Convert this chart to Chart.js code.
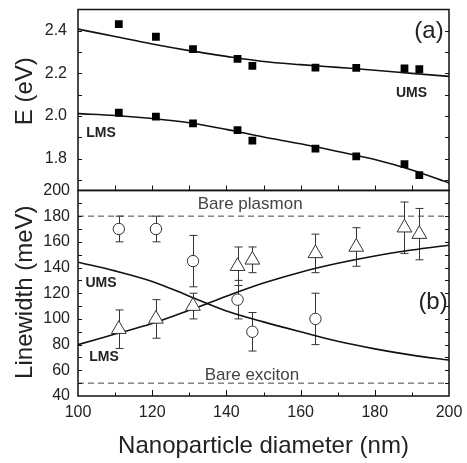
<!DOCTYPE html>
<html><head><meta charset="utf-8">
<script src="https://cdn.jsdelivr.net/npm/chart.js@4.4.0/dist/chart.umd.min.js"></script>
<style>html,body{margin:0;padding:0;background:#fff}</style>
</head><body>
<canvas id="c" width="467" height="463" style="width:467px;height:463px;display:block"></canvas>
<script>
// ---- data ----
const diameters = [111, 121, 131, 143, 147, 164, 175, 188, 192];
const energyUMS = [2.431, 2.372, 2.314, 2.268, 2.235, 2.227, 2.226, 2.223, 2.220];
const energyLMS = [2.015, 1.997, 1.965, 1.933, 1.884, 1.847, 1.810, 1.774, 1.722];
const fitDiameters = [100, 110, 120, 130, 140, 150, 160, 170, 180, 190, 200];
const energyUMSFit = [2.408, 2.373, 2.338, 2.307, 2.280, 2.256, 2.241, 2.228, 2.215, 2.200, 2.186];
const energyLMSFit = [2.011, 2.002, 1.988, 1.968, 1.937, 1.901, 1.869, 1.833, 1.795, 1.746, 1.685];
const widthUMSDiameters = [111, 121, 131, 143, 147, 164];
const widthUMS = [170, 170, 145, 115, 90, 100];
const widthUMSErr = [10, 10, 20, 15, 15, 20];
const widthLMSDiameters = [111, 121, 131, 143, 147, 164, 175, 188, 192];
const widthLMS = [92, 100, 110, 141, 146, 151, 156, 171, 166];
const widthLMSErr = [15, 15, 10, 15, 10, 15, 15, 20, 20];
const widthUMSFit = [144.1, 137.4, 129.2, 117.7, 106.2, 97.7, 90.0, 82.6, 76.7, 71.8, 67.9];
const widthLMSFit = [80.0, 88.2, 96.4, 106.7, 117.7, 127.9, 136.4, 143.3, 149.0, 153.6, 157.4];
const barePlasmon = 180;
const bareExciton = 50;
const xRange = [100, 200];
const xTicks = [100, 120, 140, 160, 180, 200];
const energyRange = [1.65, 2.5];
const energyTicks = [1.8, 2.0, 2.2, 2.4];
const energyMinorTicks = [1.7, 1.8, 1.9, 2.0, 2.1, 2.2, 2.3, 2.4];
const widthRange = [40, 200];
const widthTicks = [40, 60, 80, 100, 120, 140, 160, 180, 200];
const widthMinorTicks = [50, 60, 70, 80, 90, 100, 110, 120, 130, 140, 150, 160, 170, 180, 190];
const xMinorTicks = [110, 120, 130, 140, 150, 160, 170, 180, 190];

const FONT = "'Liberation Sans', Arial, Helvetica, sans-serif";
const pts = (xs, ys) => xs.map((x, i) => ({x: x, y: ys[i]}));

const annotations = [
  {text: '(a)', axis: 'yTop', x: 194.6, y: 2.395, font: '24px ' + FONT, color: '#222'},
  {text: 'UMS', axis: 'yTop', x: 189.9, y: 2.105, font: 'bold 14px ' + FONT, color: '#222'},
  {text: 'LMS', axis: 'yTop', x: 106.2, y: 1.919, font: 'bold 14px ' + FONT, color: '#222'},
  {text: '(b)', axis: 'yBot', x: 195.7, y: 112.5, font: '24px ' + FONT, color: '#222'},
  {text: 'UMS', axis: 'yBot', x: 106.2, y: 127.9, font: 'bold 14px ' + FONT, color: '#222'},
  {text: 'LMS', axis: 'yBot', x: 107.0, y: 70.2, font: 'bold 14px ' + FONT, color: '#222'},
  {text: 'Bare plasmon', axis: 'yBot', x: 146.4, y: 189.2, font: '17px ' + FONT, color: '#444'},
  {text: 'Bare exciton', axis: 'yBot', x: 146.9, y: 56.2, font: '17px ' + FONT, color: '#444'}
];
const axisTitles = [
  {text: 'E (eV)', axis: 'yTop', y: 2.116},
  {text: 'Linewidth (meV)', axis: 'yBot', y: 120.8}
];

const framePlugin = {
  id: 'framePlugin',
  beforeDatasetsDraw(chart) {
    const ctx = chart.ctx, xs = chart.scales.x, ys = chart.scales.yBot;
    ctx.save();
    ctx.strokeStyle = '#333';
    ctx.lineWidth = 1;
    const draw = (dx, dy, de) => {
      dx.forEach((d, i) => {
        const px = Math.round(xs.getPixelForValue(d)) + 0.5;
        const t = ys.getPixelForValue(dy[i] + de[i]);
        const b = ys.getPixelForValue(dy[i] - de[i]);
        ctx.beginPath();
        ctx.moveTo(px, t); ctx.lineTo(px, b);
        ctx.moveTo(px - 4, t); ctx.lineTo(px + 4, t);
        ctx.moveTo(px - 4, b); ctx.lineTo(px + 4, b);
        ctx.stroke();
      });
    };
    draw(widthUMSDiameters, widthUMS, widthUMSErr);
    draw(widthLMSDiameters, widthLMS, widthLMSErr);
    ctx.restore();
  },
  afterDraw(chart) {
    const ctx = chart.ctx, xs = chart.scales.x, yt = chart.scales.yTop, yb = chart.scales.yBot;
    const L = xs.left, R = xs.right;
    ctx.save();
    ctx.strokeStyle = '#111';
    ctx.lineWidth = 1.5;
    ctx.strokeRect(L, yt.top, R - L, yt.bottom - yt.top);
    ctx.strokeRect(L, yb.top, R - L, yb.bottom - yb.top);
    ctx.lineWidth = 1;
    ctx.beginPath();
    const yTicksDraw = (scale, vals) => {
      vals.forEach(v => {
        const p = Math.round(scale.getPixelForValue(v)) + 0.5;
        ctx.moveTo(L, p); ctx.lineTo(L + 4, p);
        ctx.moveTo(R, p); ctx.lineTo(R - 4, p);
      });
    };
    yTicksDraw(yt, energyMinorTicks);
    yTicksDraw(yb, widthMinorTicks);
    xMinorTicks.forEach(v => {
      const p = Math.round(xs.getPixelForValue(v)) + 0.5;
      const major = xTicks.includes(v);
      ctx.moveTo(p, yt.bottom); ctx.lineTo(p, yt.bottom - 5);
      ctx.moveTo(p, yb.bottom); ctx.lineTo(p, yb.bottom - (major ? 6 : 3.5));
    });
    ctx.stroke();
    ctx.textAlign = 'center';
    ctx.textBaseline = 'middle';
    annotations.forEach(a => {
      ctx.font = a.font;
      ctx.fillStyle = a.color;
      ctx.fillText(a.text, xs.getPixelForValue(a.x), chart.scales[a.axis].getPixelForValue(a.y));
    });
    // rotated y-axis titles
    ctx.font = '24px ' + FONT;
    ctx.fillStyle = '#222';
    axisTitles.forEach(t => {
      ctx.save();
      ctx.translate(25, chart.scales[t.axis].getPixelForValue(t.y));
      ctx.rotate(-Math.PI / 2);
      ctx.fillText(t.text, 0, 0);
      ctx.restore();
    });
    ctx.restore();
  }
};

const noPad = s => { s.paddingTop = 0; s.paddingBottom = 0; s.paddingLeft = 0; s.paddingRight = 0; };

new Chart(document.getElementById('c'), {
  type: 'scatter',
  data: {
    datasets: [
      {label: 'E UMS', yAxisID: 'yTop', data: pts(diameters, energyUMS), pointStyle: 'rect', pointRadius: 5.5,
       backgroundColor: '#000', borderColor: '#000', borderWidth: 0, showLine: false},
      {label: 'E LMS', yAxisID: 'yTop', data: pts(diameters, energyLMS), pointStyle: 'rect', pointRadius: 5.5,
       backgroundColor: '#000', borderColor: '#000', borderWidth: 0, showLine: false},
      {label: 'Linewidth UMS', yAxisID: 'yBot', data: pts(widthUMSDiameters, widthUMS), pointStyle: 'circle', pointRadius: 5.7,
       backgroundColor: '#fff', borderColor: '#333', borderWidth: 1, showLine: false},
      {label: 'Linewidth LMS', yAxisID: 'yBot', data: pts(widthLMSDiameters, widthLMS), pointStyle: 'triangle', pointRadius: 8.5,
       backgroundColor: '#fff', borderColor: '#333', borderWidth: 1, showLine: false},
      {label: 'E UMS fit', yAxisID: 'yTop', data: pts(fitDiameters, energyUMSFit), showLine: true, pointRadius: 0,
       borderColor: '#111', borderWidth: 1.6, cubicInterpolationMode: 'monotone', fill: false},
      {label: 'E LMS fit', yAxisID: 'yTop', data: pts(fitDiameters, energyLMSFit), showLine: true, pointRadius: 0,
       borderColor: '#111', borderWidth: 1.6, cubicInterpolationMode: 'monotone', fill: false},
      {label: 'Linewidth UMS fit', yAxisID: 'yBot', data: pts(fitDiameters, widthUMSFit), showLine: true, pointRadius: 0,
       borderColor: '#111', borderWidth: 1.6, cubicInterpolationMode: 'monotone', fill: false},
      {label: 'Linewidth LMS fit', yAxisID: 'yBot', data: pts(fitDiameters, widthLMSFit), showLine: true, pointRadius: 0,
       borderColor: '#111', borderWidth: 1.6, cubicInterpolationMode: 'monotone', fill: false},
      {label: 'Bare plasmon', yAxisID: 'yBot', data: pts(xRange, [barePlasmon, barePlasmon]), showLine: true, pointRadius: 0,
       borderColor: '#444', borderWidth: 1, borderDash: [6, 4]},
      {label: 'Bare exciton', yAxisID: 'yBot', data: pts(xRange, [bareExciton, bareExciton]), showLine: true, pointRadius: 0,
       borderColor: '#444', borderWidth: 1, borderDash: [6, 4]}
    ]
  },
  options: {
    responsive: false,
    animation: false,
    devicePixelRatio: 1,
    layout: {padding: {left: 0, right: 18, top: 3, bottom: 0}},
    plugins: {legend: {display: false}, tooltip: {enabled: false}},
    scales: {
      x: {
        type: 'linear', position: 'bottom', min: xRange[0], max: xRange[1],
        grid: {display: false, drawTicks: false}, border: {display: false},
        afterBuildTicks: s => { s.ticks = xTicks.map(v => ({value: v})); },
        ticks: {padding: 7, autoSkip: false, maxRotation: 0, color: '#222', font: {family: FONT, size: 16}},
        title: {display: true, text: 'Nanoparticle diameter (nm)', color: '#222', font: {family: FONT, size: 24}, padding: {top: 0, bottom: 2}},
        afterFit: s => { s.height = 67; noPad(s); }
      },
      yBot: {
        type: 'linear', position: 'left', stack: 'panels', stackWeight: 209,
        min: widthRange[0], max: widthRange[1],
        grid: {display: false, drawTicks: false}, border: {display: false},
        afterBuildTicks: s => { s.ticks = widthTicks.map(v => ({value: v})); },
        ticks: {padding: 8, autoSkip: false, color: '#222', font: {family: FONT, size: 16}},
        title: {display: false},
        afterFit: s => { s.width = 78; noPad(s); }
      },
      yTop: {
        type: 'linear', position: 'left', stack: 'panels', stackWeight: 184,
        min: energyRange[0], max: energyRange[1],
        grid: {display: false, drawTicks: false}, border: {display: false},
        afterBuildTicks: s => { s.ticks = energyTicks.map(v => ({value: v})); },
        ticks: {padding: 11, autoSkip: false, color: '#222', font: {family: FONT, size: 16}, callback: v => v.toFixed(1)},
        title: {display: false},
        afterFit: s => { s.width = 78; noPad(s); }
      }
    }
  },
  plugins: [framePlugin]
});
</script>
</body></html>
